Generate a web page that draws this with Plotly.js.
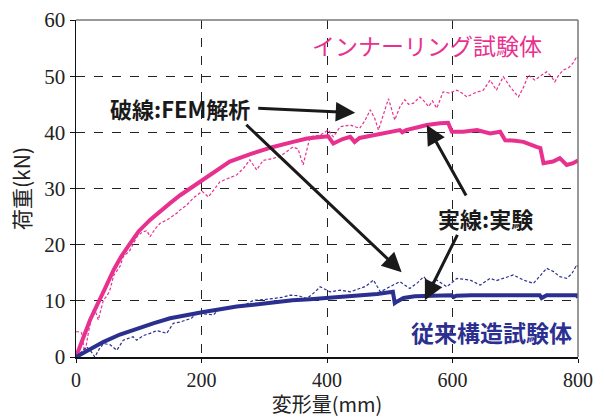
<!DOCTYPE html>
<html>
<head>
<meta charset="utf-8">
<script src="https://cdn.plot.ly/plotly-3.0.1.min.js"></script>
<style>html,body{margin:0;padding:0;background:#fff;}#chart{width:604px;height:418px;}</style>
</head>
<body>
<div id="chart"></div>
<script>
// Inner-ring specimen: experiment (solid)
const innerExpX = [0, 10, 22, 30, 38, 48, 60, 72, 86, 100, 118, 134, 150, 166, 182, 198, 220, 245, 280, 314, 346, 368, 394, 402, 410, 425, 437, 444, 452, 474, 485, 500, 516, 520, 526, 548, 559, 580, 593, 599, 617, 639, 660, 676, 684, 700, 713, 734, 740, 745, 760, 771, 782, 792, 800];
const innerExpY = [0, 3.0, 6.5, 8.4, 10.1, 12.6, 15.5, 17.9, 20.2, 22.4, 24.4, 26.0, 27.4, 28.8, 30.0, 31.2, 32.9, 34.8, 36.2, 37.4, 38.3, 38.9, 39.2, 39.3, 38.0, 38.8, 39.2, 38.3, 39.0, 39.5, 39.8, 40.1, 40.4, 40.0, 40.4, 41.0, 41.3, 41.6, 41.7, 40.1, 40.1, 40.4, 39.8, 40.1, 38.6, 38.5, 38.3, 37.4, 37.2, 34.5, 34.8, 35.4, 34.2, 34.5, 35.0];
// Inner-ring specimen: FEM (dotted)
const innerFemX = [0, 5, 9, 14, 20, 27.6, 32, 35.5, 43.6, 50, 54, 60, 70, 75, 86, 97, 105, 113, 118, 126, 134, 148, 160.5, 166, 176, 187, 201, 211, 229.5, 243, 256, 267, 277, 288, 298, 312, 325, 336, 346, 354, 362, 373, 389, 402, 410, 421, 437, 452, 460, 469, 476, 482, 490, 498, 508, 516, 524, 530, 538, 548, 555, 562, 568, 575, 585, 595, 607, 615, 623, 635, 649, 660, 670, 681, 692, 700, 705, 713, 721, 731, 740, 750, 757, 763, 770, 777, 785, 792, 798, 800];
const innerFemY = [4.5, 4.5, 4.3, 0.6, 4.5, 8.4, 7.8, 6.6, 10.1, 11.0, 11.9, 14.5, 16.1, 17.8, 19.0, 21.4, 22.2, 22.5, 21.4, 22.8, 23.8, 24.6, 25.6, 26.2, 27.0, 28.3, 29.5, 28.5, 31.2, 31.8, 32.4, 33.6, 35.1, 33.3, 35.0, 35.3, 35.7, 36.6, 37.4, 37.0, 34.2, 39.2, 39.5, 40.4, 39.2, 41.0, 41.3, 40.7, 42.0, 44.0, 42.5, 40.4, 43.0, 46.0, 42.2, 44.5, 45.8, 45.0, 45.2, 46.3, 45.5, 44.6, 45.6, 44.3, 47.2, 47.0, 47.5, 47.0, 46.3, 47.0, 47.5, 49.3, 47.5, 49.9, 48.1, 47.0, 46.3, 48.0, 50.2, 49.3, 50.0, 50.8, 50.0, 49.0, 50.3, 51.1, 51.5, 52.3, 53.5, 53.2];
// Conventional specimen: experiment (solid)
const convExpX = [0, 20, 44, 70, 97, 123, 150, 176, 203, 230, 256, 290, 320, 345, 373, 400, 420, 450, 480, 505, 506, 508, 512, 522, 540, 559, 580, 598, 602, 606, 630, 670, 700, 739, 742, 746, 750, 780, 798, 800];
const convExpY = [0, 1.3, 2.7, 4.0, 5.1, 6.0, 6.9, 7.5, 8.0, 8.5, 9.0, 9.4, 9.8, 10.1, 10.3, 10.5, 10.6, 10.9, 11.2, 11.6, 10.6, 9.6, 9.9, 10.5, 10.8, 10.9, 10.9, 11.0, 10.7, 10.9, 11.0, 11.0, 11.0, 11.0, 10.5, 10.7, 11.0, 11.0, 11.0, 10.6];
// Conventional specimen: FEM (dotted)
const convFemX = [0, 8, 17, 24, 30, 37, 43.6, 54, 65, 75.4, 84, 91, 96.7, 107, 118, 128.6, 136, 144.5, 155, 165, 176, 184, 192, 205, 219, 230, 243, 256, 270, 283, 298, 314, 328, 341, 355, 368, 380, 389, 397, 405, 421, 437, 452, 462, 474, 485, 500, 516, 532, 544, 554, 564, 575, 591, 607, 618, 628, 644, 660, 670, 681, 697, 713, 729, 740, 750, 761, 771, 782, 790, 798, 800];
const convFemY = [0, 0.8, 1.8, 1.0, 0, 1.4, 2.4, 2.2, 1.2, 3.0, 3.3, 3.6, 3.0, 3.8, 4.2, 4.7, 4.5, 4.2, 6.0, 6.2, 6.6, 6.9, 7.8, 7.6, 7.5, 8.7, 8.8, 9.0, 9.3, 10.1, 10.2, 10.4, 10.6, 11.0, 10.9, 10.4, 11.5, 12.5, 12.0, 11.6, 11.9, 11.6, 12.2, 12.6, 13.7, 11.6, 12.5, 13.4, 12.2, 13.2, 14.3, 13.1, 13.7, 12.5, 14.0, 13.9, 13.7, 12.8, 14.0, 13.6, 14.0, 14.6, 13.7, 13.1, 14.5, 15.8, 15.2, 14.3, 14.0, 14.8, 16.4, 16.0];

const xTicks = [0, 200, 400, 600, 800];
const yTicks = [0, 10, 20, 30, 40, 50, 60];

const PINK = '#e8318f';
const NAVY = '#2b3090';
const CJK = '"Noto Sans CJK JP", sans-serif';
const SERIF = '"Liberation Serif", "DejaVu Serif", serif';

const traces = [
  {x: innerFemX, y: innerFemY, mode: 'lines', line: {color: PINK, width: 1.2, dash: '3px,2px'}},
  {x: convFemX, y: convFemY, mode: 'lines', line: {color: NAVY, width: 1.2, dash: '3px,2px'}},
  {x: innerExpX, y: innerExpY, mode: 'lines', line: {color: PINK, width: 4}},
  {x: convExpX, y: convExpY, mode: 'lines', line: {color: NAVY, width: 4}}
];

function arrow(tx, ty, hx, hy) {
  return {x: hx, y: hy, ax: tx, ay: ty, xref: 'x', yref: 'y', axref: 'x', ayref: 'y',
    text: '', showarrow: true, arrowhead: 2, arrowsize: 1.3, arrowwidth: 3, arrowcolor: '#1a1a1a', standoff: 0, startstandoff: 0};
}

const layout = {
  width: 604, height: 418,
  margin: {l: 76, r: 26, t: 20, b: 61, pad: 0},
  paper_bgcolor: '#fff', plot_bgcolor: '#fff',
  showlegend: false, hovermode: false,
  xaxis: {
    range: [0, 800], tickvals: xTicks, ticktext: xTicks.map(String),
    showgrid: true, gridcolor: '#222', griddash: 'dash', gridwidth: 1,
    showline: true, linecolor: '#111', linewidth: 1.5,
    ticks: 'outside', ticklen: 4, tickcolor: '#111', zeroline: false,
    tickfont: {family: SERIF, size: 20, color: '#222'},
    title: {text: '変形量(mm)', font: {family: CJK, size: 20, color: '#222'}, standoff: 6}
  },
  yaxis: {
    range: [0, 60], tickvals: yTicks, ticktext: yTicks.map(String),
    showgrid: true, gridcolor: '#222', griddash: 'dash', gridwidth: 1,
    showline: true, linecolor: '#111', linewidth: 1.5,
    ticks: 'outside', ticklen: 5, tickcolor: '#111', zeroline: false,
    tickfont: {family: SERIF, size: 21, color: '#222'},
    title: {text: '荷重(kN)', font: {family: CJK, size: 21, color: '#222'}, standoff: 8}
  },
  shapes: [
    {type: 'line', xref: 'paper', yref: 'paper', x0: 0, x1: 1, y0: 1, y1: 1, line: {color: '#777', width: 1.5}, layer: 'above'},
    {type: 'line', xref: 'paper', yref: 'paper', x0: 1, x1: 1, y0: 0, y1: 1, line: {color: '#777', width: 1.5}, layer: 'above'}
  ],
  annotations: [
    {x: 559, y: 55.5, xref: 'x', yref: 'y', text: 'インナーリング試験体', showarrow: false,
      font: {family: CJK, size: 23, color: PINK}},
    {x: 166, y: 44.3, xref: 'x', yref: 'y', text: '<b>破線:FEM解析</b>', showarrow: false,
      font: {family: CJK, size: 22, color: '#1a1a1a'}},
    {x: 652, y: 24.7, xref: 'x', yref: 'y', text: '<b>実線:実験</b>', showarrow: false,
      font: {family: CJK, size: 22, color: '#1a1a1a'}},
    {x: 662, y: 4.45, xref: 'x', yref: 'y', text: '<b>従来構造試験体</b>', showarrow: false,
      font: {family: CJK, size: 23, color: NAVY}},
    arrow(288, 44.3, 445, 43.5),
    arrow(269, 41.6, 519, 15.1),
    arrow(623, 28.5, 559, 41.3),
    arrow(609, 22.0, 556, 10.1)
  ]
};

Plotly.newPlot('chart', traces, layout, {displayModeBar: false, staticPlot: true});
</script>
</body>
</html>
